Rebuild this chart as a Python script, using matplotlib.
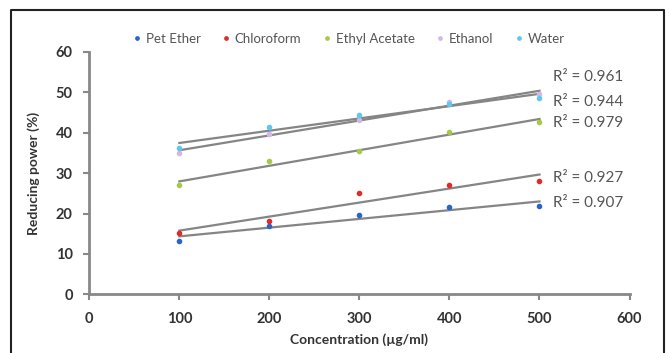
import numpy as np
import matplotlib

matplotlib.use("Agg")

import matplotlib.pyplot as plt
from matplotlib.lines import Line2D

plt.rcParams["font.family"] = ["Lato", "DejaVu Sans"]

concentration = [100, 200, 300, 400, 500]

series_names = ["Pet Ether", "Chloroform", "Ethyl Acetate", "Ethanol", "Water"]
pet_ether = [13.3, 17.0, 19.7, 21.6, 21.8]
chloroform = [15.2, 18.2, 25.0, 27.1, 28.1]
ethyl_acetate = [27.0, 32.9, 35.6, 40.3, 42.6]
ethanol = [35.0, 39.8, 43.2, 47.6, 49.5]
water = [36.2, 41.4, 44.4, 47.2, 48.5]

r2_labels = ["0.907", "0.927", "0.979", "0.944", "0.961"]
r2_label_y = [22.7, 28.9, 42.3, 47.7, 53.9]

colors = ["#2a64c8", "#e02a2a", "#a8c84a", "#d4b8e4", "#5cc8f0"]
trend_color = "#858585"
axis_color = "#888888"

fig = plt.figure(figsize=(6.69, 3.53), dpi=100)
ax = fig.add_axes([0.1335, 0.166, 0.8075, 0.687])

all_series = [pet_ether, chloroform, ethyl_acetate, ethanol, water]
xs = np.array(concentration, dtype=float)
for values, color in zip(all_series, colors):
    ys = np.array(values, dtype=float)
    slope, intercept = np.polyfit(xs, ys, 1)
    ax.plot([xs[0], xs[-1]], [slope * xs[0] + intercept, slope * xs[-1] + intercept],
            color=trend_color, lw=1.6, zorder=2)
for values, color, name in zip(all_series, colors, series_names):
    ax.plot(concentration, values, "o", color=color, ms=3, label=name, zorder=3)

for label, y in zip(r2_labels, r2_label_y):
    ax.text(515, y, f"R² = {label}", ha="left", va="center", fontsize=11, color="#555555")

ax.set_xlim(0, 600)
ax.set_ylim(0, 60)
ax.set_xticks(range(0, 601, 100))
ax.set_yticks(range(0, 61, 10))
for side in ["top", "right"]:
    ax.spines[side].set_visible(False)
for side in ["left", "bottom"]:
    ax.spines[side].set_color(axis_color)
    ax.spines[side].set_linewidth(2)
ax.tick_params(axis="both", color=axis_color, width=1.5, length=4, labelsize=10.5,
               labelcolor="#333333")
ax.tick_params(axis="x", pad=9)
ax.tick_params(axis="y", pad=8)
for tick in ax.get_xticklabels() + ax.get_yticklabels():
    tick.set_fontweight("bold")

ax.set_xlabel("Concentration (µg/ml)", fontsize=10, fontweight="bold", color="#333333", labelpad=5)
ax.set_ylabel("Reducing power (%)", fontsize=10, fontweight="bold", color="#333333", labelpad=11)

fig.legend(loc="center", bbox_to_anchor=(0.522, 0.89), ncol=5, frameon=False, fontsize=9.5,
           handlelength=0.5, handletextpad=0.4, columnspacing=1.7, labelcolor="#555555",
           markerscale=0.8)

# outer frame around the chart (bottom edge is cut off)
frame_x = [0.016, 0.016, 0.993, 0.993]
frame_y = [0.0, 0.9717, 0.9717, 0.0]
fig.add_artist(Line2D(frame_x, frame_y, color="#222222", lw=1.5, transform=fig.transFigure))

fig.savefig("out.png", dpi=100)
